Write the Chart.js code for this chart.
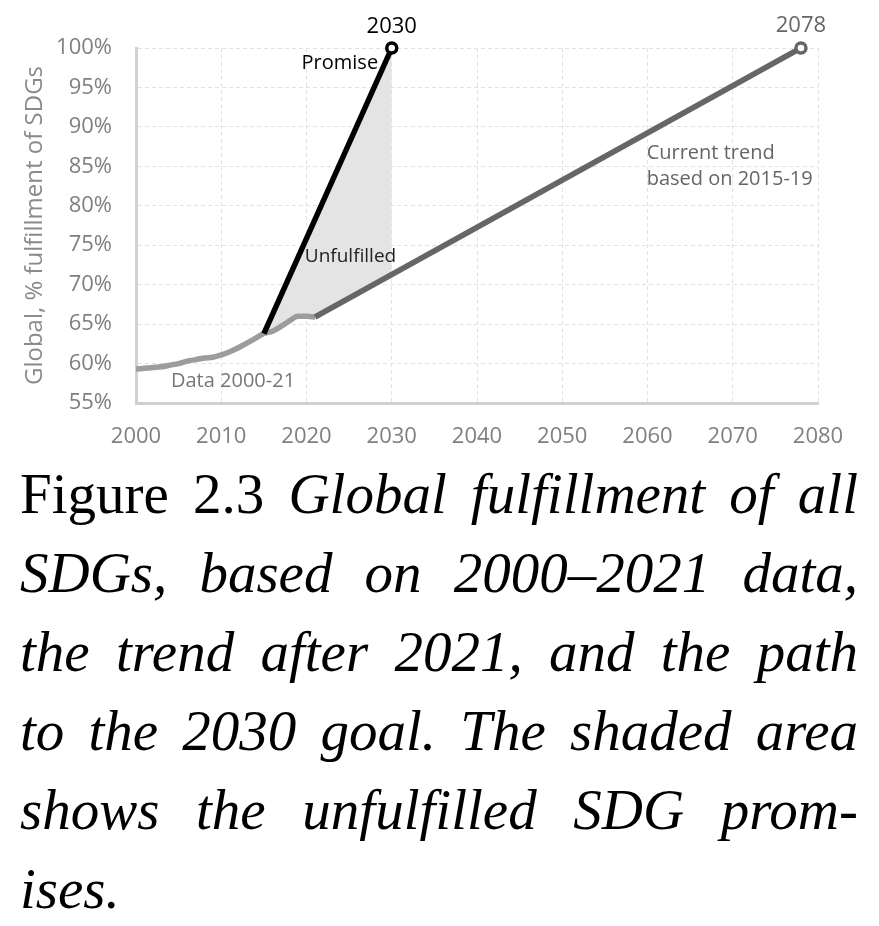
<!DOCTYPE html>
<html>
<head>
<meta charset="utf-8">
<script src="https://cdn.jsdelivr.net/npm/chart.js@4.4.0/dist/chart.umd.min.js"></script>
<style>
  html, body { margin: 0; padding: 0; background: #fff; }
  body { width: 879px; height: 926px; position: relative; overflow: hidden; }
  #wrap { position: absolute; left: 0; top: 0; width: 879px; height: 455px; }
  #caption { position: absolute; left: 20px; top: 454px; width: 838px;
    font-family: "Liberation Serif", serif; font-size: 57px; line-height: 79px; color: #000; }
  #caption div { text-align: justify; text-align-last: justify; white-space: nowrap; }
  #caption div.last { text-align: left; text-align-last: left; }
  #caption i { font-style: italic; }
</style>
</head>
<body>
<div id="wrap"><canvas id="c" width="879" height="455"></canvas></div>
<div id="caption">
  <div>Figure 2.3 <i>Global fulfillment of all</i></div>
  <div><i>SDGs, based on 2000–2021 data,</i></div>
  <div><i>the trend after 2021, and the path</i></div>
  <div><i>to the 2030 goal. The shaded area</i></div>
  <div><i>shows the unfulfilled SDG prom-</i></div>
  <div class="last"><i>ises.</i></div>
</div>
<script>
// ---- data ----
const dataYears = [2000,2001,2002,2003,2004,2005,2006,2007,2008,2009,2010,2011,2012,2013,2014,2015,2016,2017,2018,2019,2020,2021];
const dataValues = [59.3,59.4,59.5,59.6,59.8,60.0,60.3,60.5,60.7,60.8,61.1,61.5,62.0,62.6,63.2,63.8,64.1,64.7,65.4,66.0,66.0,65.9];
const promiseYears = [2015, 2030];
const promiseValues = [63.8, 100];
const trendYears = [2021, 2078];
const trendValues = [65.9, 100];
const xTicks = [2000,2010,2020,2030,2040,2050,2060,2070,2080];
const yTicks = [55,60,65,70,75,80,85,90,95,100];
const yTitle = 'Global, % fulfillment of SDGs';

const toXY = (xs, ys) => xs.map((x, i) => ({x: x, y: ys[i]}));
const dataPts = toXY(dataYears, dataValues);
const promisePts = toXY(promiseYears, promiseValues);
const trendPts = toXY(trendYears, trendValues);
// lower edge of the shaded area: observed data from the promise start year, then the trend
const lowerPts = dataPts.filter(p => p.x >= promiseYears[0]).concat(trendPts.slice(1));

const FONT = '"Open Sans", sans-serif';

const labelPlugin = {
  id: 'labels',
  afterDatasetsDraw(chart) {
    const {ctx, scales: {x, y}} = chart;
    const put = (text, xv, yv, color, size, align, dx, dy) => {
      ctx.save();
      ctx.font = size + 'px ' + FONT;
      ctx.fillStyle = color;
      ctx.textAlign = align;
      ctx.textBaseline = 'middle';
      ctx.fillText(text, x.getPixelForValue(xv) + (dx || 0), y.getPixelForValue(yv) + (dy || 0));
      ctx.restore();
    };
    put('2030', promiseYears[1], promiseValues[1], '#000', 22, 'center', 0, -21);
    put('2078', trendYears[1], trendValues[1], '#666', 22, 'center', 0, -22);
    put('Promise', 2028.4, 98.1, '#000', 20, 'right');
    put('Unfulfilled', 2019.8, 73.5, '#222', 19, 'left');
    put('Data 2000-21', 2004.1, 57.8, '#777', 20, 'left');
    put('Current trend', 2059.9, 86.65, '#666', 20, 'left');
    put('based on 2015-19', 2059.9, 83.3, '#666', 20, 'left');
  }
};

new Chart(document.getElementById('c'), {
  type: 'line',
  data: {
    datasets: [
      { // promise line
        data: promisePts, borderColor: '#000', borderWidth: 5.5, clip: false,
        pointRadius: [0, 5], pointBorderWidth: 3.5, pointBackgroundColor: '#fff', pointBorderColor: '#000',
        fill: false, order: 1
      },
      { // trend line
        data: trendPts, borderColor: '#666', borderWidth: 5.5, clip: false,
        pointRadius: [0, 5], pointBorderWidth: 3.5, pointBackgroundColor: '#fff', pointBorderColor: '#666',
        fill: false, order: 2
      },
      { // observed data
        data: dataPts, borderColor: '#9c9c9c', borderWidth: 5.5, pointRadius: 0, clip: false,
        cubicInterpolationMode: 'monotone', fill: false, order: 3
      },
      { // shaded area top (promise) filled down to the lower edge
        data: promisePts, borderWidth: 0, borderColor: 'rgba(0,0,0,0)', pointRadius: 0,
        backgroundColor: '#e4e4e4', fill: {target: 4}, order: 4
      },
      { // lower edge (invisible)
        data: lowerPts, borderWidth: 0, borderColor: 'rgba(0,0,0,0)', pointRadius: 0,
        fill: false, order: 5
      }
    ]
  },
  options: {
    responsive: false,
    animation: false,
    devicePixelRatio: 1,
    layout: { padding: { left: 14, right: 61, top: 48, bottom: 0 } },
    plugins: {
      legend: { display: false },
      tooltip: { enabled: false },
      filler: { drawTime: 'beforeDatasetsDraw' }
    },
    scales: {
      x: {
        type: 'linear', min: 2000, max: 2080,
        afterBuildTicks: s => { s.ticks = xTicks.map(v => ({value: v})); },
        afterFit: s => { s.height = 52; },
        ticks: { font: { family: FONT, size: 22 }, color: '#7f7f7f', padding: 21, maxRotation: 0,
                 callback: v => String(v) },
        grid: { color: '#e2e2e2', lineWidth: 1, drawTicks: false },
        border: { display: true, color: '#d0d0d0', width: 3, dash: [4, 3] }
      },
      y: {
        type: 'linear', min: 55, max: 100,
        afterBuildTicks: s => { s.ticks = yTicks.map(v => ({value: v})); },
        afterFit: s => { s.width = 122; },
        ticks: { font: { family: FONT, size: 22 }, color: '#7f7f7f', padding: 24,
                 callback: v => v + '%' },
        grid: { color: '#e2e2e2', lineWidth: 1, drawTicks: false },
        border: { display: true, color: '#d0d0d0', width: 3, dash: [4, 3] },
        title: { display: true, text: yTitle, font: { family: FONT, size: 24 }, color: '#8a8a8a',
                 padding: { top: 7 } }
      }
    }
  },
  plugins: [labelPlugin]
});
</script>
</body>
</html>
